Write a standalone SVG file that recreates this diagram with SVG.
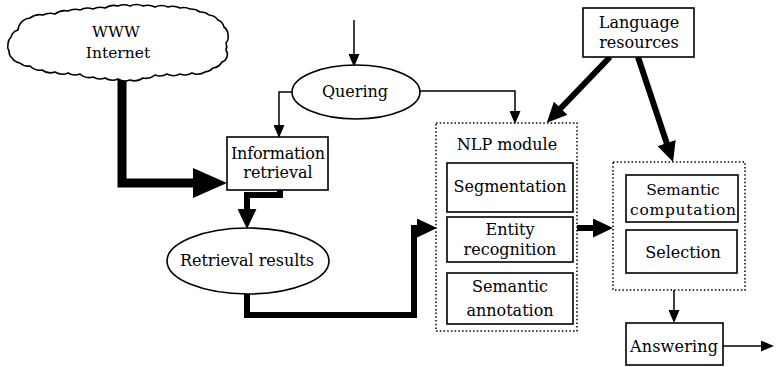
<svg xmlns="http://www.w3.org/2000/svg" width="776" height="367" viewBox="0 0 776 367">
<style>
  text { font-family: "DejaVu Serif", "Liberation Serif", serif; font-size: 16px; fill: #000; text-anchor: middle; }
  .sm { font-size: 15.5px; }
  .box { fill: #fff; stroke: #000; stroke-width: 1.6; }
  .dot { fill: none; stroke: #000; stroke-width: 1.5; stroke-dasharray: 1.5 2.2; }
  .thin { fill: none; stroke: #000; stroke-width: 1.5; }
  .thick { fill: none; stroke: #000; stroke-width: 6; stroke-linejoin: miter; }
  .xthick { fill: none; stroke: #000; stroke-width: 9; stroke-linejoin: miter; }
</style>
<defs>
  <marker id="small" markerUnits="userSpaceOnUse" markerWidth="13" markerHeight="11" refX="1" refY="5.5" orient="auto">
    <path d="M0,0 L13,5.5 L0,11 z" fill="#000"/>
  </marker>
  <marker id="big" markerUnits="userSpaceOnUse" markerWidth="20" markerHeight="19" refX="1" refY="9.5" orient="auto">
    <path d="M0,0 L20,9.5 L0,19 z" fill="#000"/>
  </marker>
  <marker id="huge" markerUnits="userSpaceOnUse" markerWidth="34" markerHeight="30" refX="1" refY="15" orient="auto">
    <path d="M0,0 L34,15 L0,30 z" fill="#000"/>
  </marker>
</defs>
<rect width="776" height="367" fill="#fff"/>

<g id="connectors">
  <path class="xthick" d="M122,78 V183 H194" marker-end="url(#huge)"/>
  <path class="thin" d="M354,20 V55" marker-end="url(#small)"/>
  <path class="thin" d="M292,92 H279 V126" marker-end="url(#small)"/>
  <path class="thin" d="M420,91 H515 V112" marker-end="url(#small)"/>
  <path class="thick" d="M610,57 L560,109" marker-end="url(#big)"/>
  <path class="thick" d="M638,57 L667,144" marker-end="url(#big)"/>
  <path class="thick" d="M280,190 V195 H247 V210" marker-end="url(#big)"/>
  <path class="thick" d="M247,293 V315 H414 V228 H418" marker-end="url(#big)"/>
  <path class="thick" d="M577,228 H594" marker-end="url(#big)"/>
  <path class="thin" d="M674,290 V311" marker-end="url(#small)"/>
  <path class="thin" d="M723,346 H762" marker-end="url(#small)"/>
</g>

<g id="www">
  <path class="box" d="M18,30 A13 13 0 0 1 30,18 A16 16 0 0 1 43,15 A16 16 0 0 1 55,14 A16 16 0 0 1 68,11 A16 16 0 0 1 80,10 A16 16 0 0 1 93,9 A16 16 0 0 1 105,8 A16 16 0 0 1 118,6 A16 16 0 0 1 130,6 A16 16 0 0 1 143,6 A16 16 0 0 1 155,7 A16 16 0 0 1 168,7 A16 16 0 0 1 180,8 A14 14 0 0 1 190,9 A14 14 0 0 1 200,12 A12 12 0 0 1 209,15 A12 12 0 0 1 218,20 A10 10 0 0 1 224,27 A10 10 0 0 1 228,35 A9 9 0 0 1 226,43 A9 9 0 0 1 226,50 A8 8 0 0 1 222,62 A12 12 0 0 1 213,68 A12 12 0 0 1 205,72 A14 14 0 0 1 192,73 A14 14 0 0 1 180,74 A14 14 0 0 1 167,74 A14 14 0 0 1 155,75 A14 14 0 0 1 143,78 A14 14 0 0 1 130,80 A14 14 0 0 1 118,79 A14 14 0 0 1 105,78 A14 14 0 0 1 93,77 A14 14 0 0 1 80,74 A14 14 0 0 1 68,73 A14 14 0 0 1 55,72 A14 14 0 0 1 42,70 A14 14 0 0 1 30,66 A12 12 0 0 1 20,63 A12 12 0 0 1 12,58 A9 9 0 0 1 9,51 A9 9 0 0 1 8,44 A10 10 0 0 1 11,37 A10 10 0 0 1 18,30 Z"/>
  <text x="116" y="37" class="sm">WWW</text>
  <text x="118" y="58" class="sm">Internet</text>
</g>

<g id="quering">
  <ellipse class="box" cx="356" cy="92" rx="64" ry="27"/>
  <text x="355" y="97">Quering</text>
</g>

<g id="information-retrieval">
  <rect class="box" x="227" y="137" width="101" height="53"/>
  <text x="278" y="159" textLength="94">Information</text>
  <text x="278" y="178">retrieval</text>
</g>

<g id="retrieval-results">
  <ellipse class="box" cx="248" cy="261" rx="81" ry="33"/>
  <text x="247" y="266" textLength="134">Retrieval results</text>
</g>

<g id="language-resources">
  <rect class="box" x="583" y="8" width="111" height="49"/>
  <text x="639" y="28">Language</text>
  <text x="639" y="48">resources</text>
</g>

<g id="nlp-module">
  <rect class="dot" x="436" y="123" width="141" height="208"/>
  <text x="507" y="150">NLP module</text>
  <g id="segmentation">
    <rect class="box" x="447" y="163" width="126" height="49"/>
    <text x="510" y="192" textLength="113">Segmentation</text>
  </g>
  <g id="entity-recognition">
    <rect class="box" x="447" y="217" width="126" height="45"/>
    <text x="510" y="235">Entity</text>
    <text x="510" y="255">recognition</text>
  </g>
  <g id="semantic-annotation">
    <rect class="box" x="447" y="273" width="126" height="51"/>
    <text x="510" y="292">Semantic</text>
    <text x="510" y="316">annotation</text>
  </g>
</g>

<g id="semantic-module">
  <rect class="dot" x="613" y="162" width="132" height="128"/>
  <g id="semantic-computation">
    <rect class="box" x="626" y="175" width="112" height="47"/>
    <text x="683" y="195" class="sm">Semantic</text>
    <text x="683" y="215" class="sm" textLength="106">computation</text>
  </g>
  <g id="selection">
    <rect class="box" x="626" y="230" width="111" height="43"/>
    <text x="683" y="258">Selection</text>
  </g>
</g>

<g id="answering">
  <rect class="box" x="626" y="323" width="97" height="42"/>
  <text x="674" y="352" textLength="88">Answering</text>
</g>
</svg>
